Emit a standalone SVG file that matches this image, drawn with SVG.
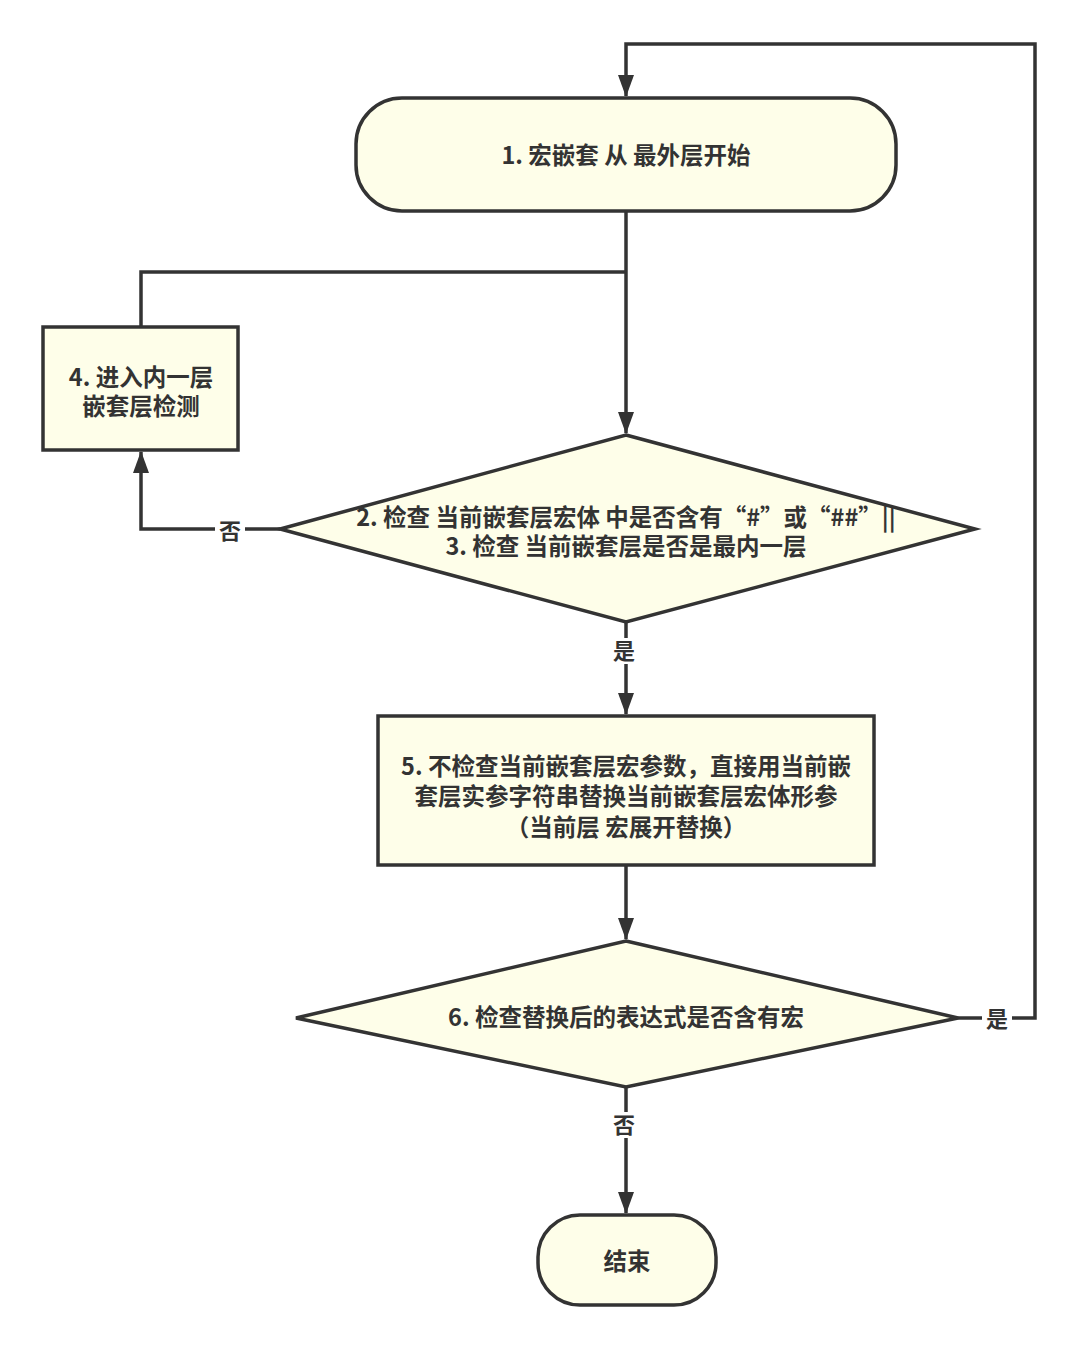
<svg xmlns="http://www.w3.org/2000/svg" width="1080" height="1349" viewBox="0 0 1080 1349">
<defs>
<style>
.node{fill:#fefee9;stroke:#333;stroke-width:3.5;}
.t{font-family:"Noto Sans CJK SC","Noto Sans",sans-serif;font-weight:bold;font-size:23.5px;fill:#333;text-anchor:middle;}
.lbl{font-family:"Noto Sans CJK SC","Noto Sans",sans-serif;font-weight:bold;font-size:22px;fill:#333;text-anchor:middle;}
.c{fill:none;stroke:#333;stroke-width:3.5;stroke-linejoin:miter;}
.bg{fill:#fff;}
</style>
<marker id="arr" viewBox="0 0 22 16" refX="21" refY="8" markerWidth="22" markerHeight="16" markerUnits="userSpaceOnUse" orient="auto">
<path d="M0,0 L22,8 L0,16 z" fill="#333"/>
</marker>
</defs>
<rect width="1080" height="1349" fill="#fff"/>
<g id="connectors">
<path class="c" d="M626,212 L626,433" marker-end="url(#arr)"/>
<path class="c" d="M141,327 L141,272 L626,272"/>
<path class="c" d="M280,529 L141,529 L141,452" marker-end="url(#arr)"/>
<path class="c" d="M626,622 L626,714" marker-end="url(#arr)"/>
<path class="c" d="M626,866 L626,939" marker-end="url(#arr)"/>
<path class="c" d="M626,1087 L626,1213" marker-end="url(#arr)"/>
<path class="c" d="M958,1018 L1035,1018 L1035,44 L626,44 L626,96" marker-end="url(#arr)"/>
<rect class="bg" x="215" y="517" width="30" height="26"/>
<text class="lbl" x="230" y="539">否</text>
<rect class="bg" x="609" y="638" width="30" height="26"/>
<text class="lbl" x="624" y="659">是</text>
<rect class="bg" x="982" y="1006" width="30" height="26"/>
<text class="lbl" x="997" y="1027">是</text>
<rect class="bg" x="609" y="1112" width="30" height="26"/>
<text class="lbl" x="624" y="1133">否</text>
</g>
<g id="n1">
<rect class="node" x="356" y="98" width="540" height="113" rx="46" ry="46"/>
<text class="t" x="626" y="164">1. 宏嵌套 从 最外层开始</text>
</g>
<g id="n4">
<rect class="node" x="43" y="327" width="195" height="123"/>
<text class="t"><tspan x="141" y="386">4. 进入内一层</tspan><tspan x="141" y="415">嵌套层检测</tspan></text>
</g>
<g id="n2">
<polygon class="node" points="626,435 975,529 626,622 280,529"/>
<text class="t"><tspan x="626" y="526">2. 检查 当前嵌套层宏体 中是否含有“#”或“##”||</tspan><tspan x="626" y="555">3. 检查 当前嵌套层是否是最内一层</tspan></text>
</g>
<g id="n5">
<rect class="node" x="378" y="716" width="496" height="149"/>
<text class="t"><tspan x="626" y="775">5. 不检查当前嵌套层宏参数，直接用当前嵌</tspan><tspan x="626" y="805">套层实参字符串替换当前嵌套层宏体形参</tspan><tspan x="626" y="836">（当前层 宏展开替换）</tspan></text>
</g>
<g id="n6">
<polygon class="node" points="626,941 958,1018 626,1087 296,1018"/>
<text class="t" x="626" y="1026">6. 检查替换后的表达式是否含有宏</text>
</g>
<g id="end">
<rect class="node" x="538" y="1215" width="178" height="90" rx="42" ry="42"/>
<text class="t" x="627" y="1270">结束</text>
</g>
</svg>
